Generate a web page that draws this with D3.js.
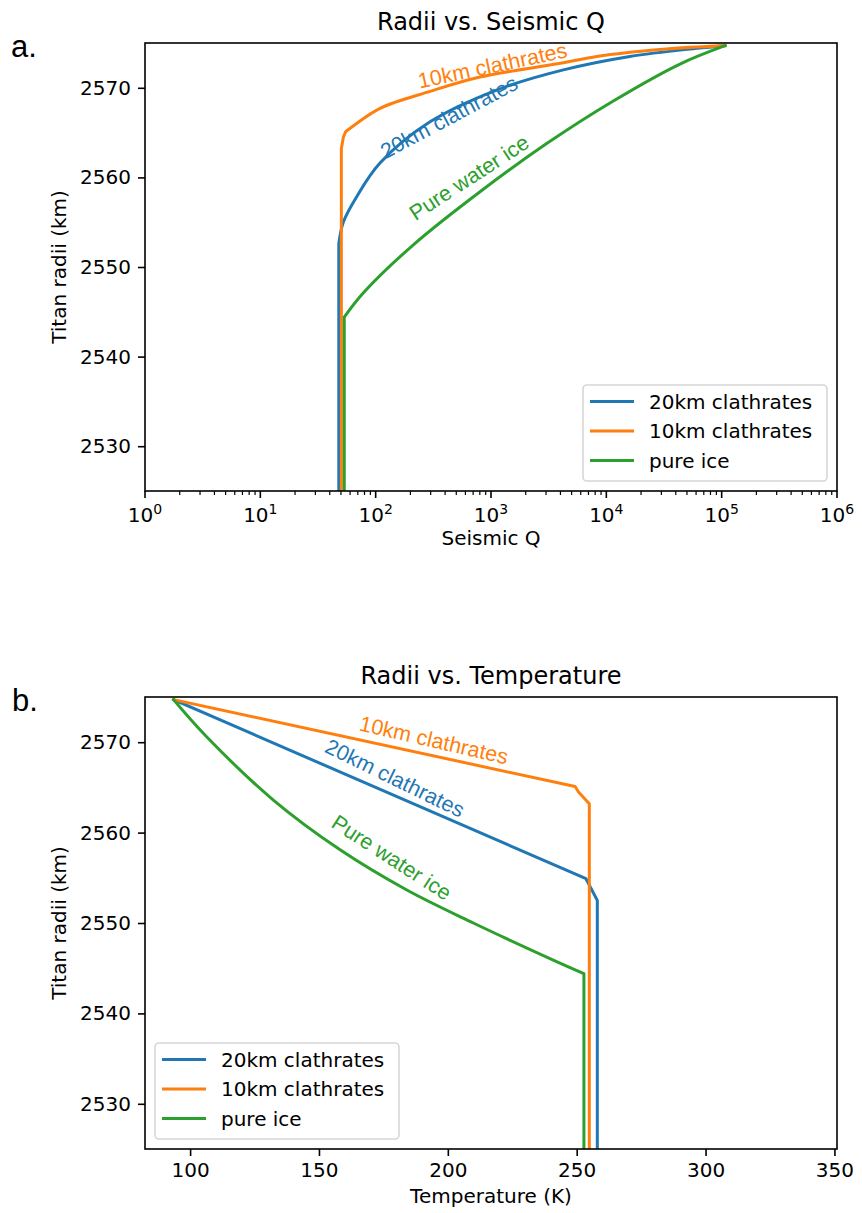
<!DOCTYPE html>
<html><head><meta charset="utf-8">
<script src="https://cdn.jsdelivr.net/npm/d3@7"></script>
<style>
body{margin:0;background:#fff;}
svg{display:block;}
text{font-family:"DejaVu Sans", sans-serif;fill:#000;}
</style></head><body>
<svg id="chart" width="862" height="1213"></svg>
<script>
// ================= DATA =================
const seriesNames  = ["20km clathrates", "10km clathrates", "pure ice"];
const seriesColors = ["#1f77b4", "#ff7f0e", "#2ca02c"];

// ---- Panel a: Seismic Q vs radius (km). Smooth lid part from surface down, then straight base part.
const aQ20 = [107000, 60800, 16000, 4240, 1120, 296, 109, 68.5, 52.4, 47.9];
const aR20 = [2574.7, 2574.4, 2573.5, 2572.0, 2569.75, 2566.2, 2561.6, 2557.85, 2555.0, 2552.6];
const aQ20Base = [47.9];
const aR20Base = [2525];

const aQ10 = [107000, 31200, 8250, 4240, 803, 296, 109, 55];
const aR10 = [2574.7, 2574.3, 2573.5, 2572.8, 2571.2, 2569.6, 2567.7, 2565.1];
const aQ10Base = [52.5, 50.4, 50.4];
const aR10Base = [2564.5, 2563.2, 2525];

const aQIce = [107000, 43500, 11400, 3060, 803, 211, 78, 53.4];
const aRIce = [2574.7, 2572.65, 2568.5, 2563.8, 2558.4, 2552.45, 2547.1, 2544.4];
const aQIceBase = [53.4];
const aRIceBase = [2525];

// ---- Panel b: Temperature (K) vs radius (km)
const bT20 = [93.6, 253.6];
const bR20 = [2574.7, 2554.9];
const bT20Base = [258.0, 258.0];
const bR20Base = [2552.5, 2525];

const bT10 = [93.6, 249.4];
const bR10 = [2574.7, 2565.1];
const bT10Base = [250.7, 254.9, 254.9];
const bR10Base = [2564.5, 2563.2, 2525];

const bTIce = [93.6, 106.4, 132.3, 158.2, 184.1, 209.9, 240.9, 252.8];
const bRIce = [2574.7, 2570.6, 2563.6, 2558.1, 2553.65, 2550.0, 2545.9, 2544.4];
const bTIceBase = [252.8];
const bRIceBase = [2525];

// ---- Axes / ticks
const radiusDomain = [2525, 2575];
const radiusTicks = [2530, 2540, 2550, 2560, 2570];
const qDomain = [1, 1e6];
const qTicks = [1, 10, 100, 1000, 10000, 100000, 1000000];
const qTickExponents = ["0", "1", "2", "3", "4", "5", "6"];
const tDomain = [82.5, 351];
const tTicks = [100, 150, 200, 250, 300, 350];

// ---- In-plot curve labels (orange, blue, green)
const curveLabelText   = ["10km clathrates", "20km clathrates", "Pure water ice"];
const curveLabelColor  = ["#ff7f0e", "#1f77b4", "#2ca02c"];
const aLabelQ = [1030, 432, 645];
const aLabelR = [2572.5, 2566.75, 2560.0];
const aLabelAngle = [-12, -28, -33];
const bLabelT = [194.6, 179.5, 178.2];
const bLabelR = [2570.24, 2566.04, 2557.25];
const bLabelAngle = [13, 26, 33];

// ================= DRAWING =================
const svg = d3.select("#chart");
const zip = (xs, ys) => xs.map((v, i) => [v, ys[i]]);

function drawPanel(opt) {
  const {left, right, top, bottom} = opt.box;
  const x = opt.xScale.range([left, right]);
  const y = d3.scaleLinear().domain(radiusDomain).range([bottom, top]);
  const g = svg.append("g");

  const clipId = "clip" + opt.id;
  svg.append("clipPath").attr("id", clipId)
    .append("rect").attr("x", left).attr("y", top).attr("width", right - left).attr("height", bottom - top);

  // lines
  const smooth = d3.line().x(d => x(d[0])).y(d => y(d[1])).curve(d3.curveCatmullRom.alpha(0.5));
  const lines = g.append("g").attr("clip-path", `url(#${clipId})`);
  opt.series.forEach((s, i) => {
    let d = smooth(s.curve);
    s.base.forEach(p => { d += `L${x(p[0])},${y(p[1])}`; });
    lines.append("path").attr("d", d).attr("fill", "none")
      .attr("stroke", seriesColors[i]).attr("stroke-width", 3)
      .attr("stroke-linejoin", "round").attr("stroke-linecap", "square");
  });

  // y axis
  const ya = g.append("g").attr("transform", `translate(${left},0)`)
    .call(d3.axisLeft(y).tickValues(radiusTicks).tickSize(7).tickPadding(7).tickFormat(d3.format("d")));
  ya.select(".domain").remove();
  ya.selectAll(".tick line").attr("stroke", "#000").attr("stroke-width", 1.6);
  ya.selectAll(".tick text").attr("font-size", 20).attr("font-family", "DejaVu Sans").attr("fill", "#000");

  // x axis
  const xa = g.append("g").attr("transform", `translate(0,${bottom})`);
  if (opt.log) {
    const minor = x.ticks().filter(v => !qTicks.includes(v));
    xa.selectAll("line.minor").data(minor).join("line").attr("class", "minor")
      .attr("x1", d => x(d)).attr("x2", d => x(d)).attr("y1", 0).attr("y2", 4)
      .attr("stroke", "#000").attr("stroke-width", 1.2);
    xa.selectAll("line.major").data(qTicks).join("line").attr("class", "major")
      .attr("x1", d => x(d)).attr("x2", d => x(d)).attr("y1", 0).attr("y2", 7)
      .attr("stroke", "#000").attr("stroke-width", 1.6);
    const lbl = xa.selectAll("text.tl").data(qTicks).join("text").attr("class", "tl")
      .attr("x", d => x(d)).attr("y", 31).attr("text-anchor", "middle").attr("font-size", 20);
    lbl.append("tspan").text("10");
    lbl.append("tspan").attr("dy", -8.5).attr("font-size", 14).text((d, i) => qTickExponents[i]);
  } else {
    xa.call(d3.axisBottom(x).tickValues(tTicks).tickSize(7).tickPadding(7).tickFormat(d3.format("d")));
    xa.select(".domain").remove();
    xa.selectAll(".tick line").attr("stroke", "#000").attr("stroke-width", 1.6);
    xa.selectAll(".tick text").attr("font-size", 20).attr("font-family", "DejaVu Sans").attr("fill", "#000");
  }

  // curve labels
  opt.labels.forEach(l => {
    g.append("text").attr("transform", `translate(${x(l.x)},${y(l.y)}) rotate(${l.angle})`)
      .attr("text-anchor", "middle").attr("dy", "0.35em")
      .style("font-family", "'Liberation Sans', Arial, sans-serif").attr("font-size", 21.5)
      .style("fill", l.color).text(l.text);
  });

  // spines
  g.append("rect").attr("x", left).attr("y", top).attr("width", right - left).attr("height", bottom - top)
    .attr("fill", "none").attr("stroke", "#000").attr("stroke-width", 1.6);

  // legend
  const lw = 244, lh = 96;
  const lx = opt.legendRight ? right - 10 - lw : left + 10;
  const ly = bottom - 10 - lh;
  const leg = g.append("g");
  leg.append("rect").attr("x", lx).attr("y", ly).attr("width", lw).attr("height", lh).attr("rx", 4)
    .attr("fill", "#fff").attr("fill-opacity", 0.8).attr("stroke", "#d6d6d6").attr("stroke-width", 1.6);
  seriesNames.forEach((n, i) => {
    const ry = ly + 16.5 + i * 29.5;
    leg.append("line").attr("x1", lx + 7).attr("x2", lx + 51).attr("y1", ry).attr("y2", ry)
      .attr("stroke", seriesColors[i]).attr("stroke-width", 3);
    leg.append("text").attr("x", lx + 66).attr("y", ry).attr("dy", "0.35em").attr("font-size", 20).text(n);
  });

  // titles & axis labels
  g.append("text").attr("x", (left + right) / 2).attr("y", top - 13).attr("text-anchor", "middle")
    .attr("font-size", 24).text(opt.title);
  g.append("text").attr("x", (left + right) / 2).attr("y", bottom + 54).attr("text-anchor", "middle")
    .attr("font-size", 20).text(opt.xLabel);
  g.append("text").attr("transform", `translate(59,${(top + bottom) / 2}) rotate(-90)`)
    .attr("text-anchor", "middle").attr("dy", "0.35em").attr("font-size", 20).text("Titan radii (km)");
  g.append("text").attr("x", opt.tagX).attr("y", top + 14)
    .style("font-family", "'Liberation Sans', Arial, sans-serif").attr("font-size", 31).text(opt.tag);
}

drawPanel({
  id: "a", box: {left: 145, right: 837, top: 43, bottom: 491},
  xScale: d3.scaleLog().domain(qDomain), log: true,
  series: [
    {curve: zip(aQ20, aR20), base: zip(aQ20Base, aR20Base)},
    {curve: zip(aQ10, aR10), base: zip(aQ10Base, aR10Base)},
    {curve: zip(aQIce, aRIce), base: zip(aQIceBase, aRIceBase)}
  ],
  labels: curveLabelText.map((t, i) => ({text: t, color: curveLabelColor[i], x: aLabelQ[i], y: aLabelR[i], angle: aLabelAngle[i]})),
  legendRight: true, title: "Radii vs. Seismic Q", xLabel: "Seismic Q", tag: "a.", tagX: 11
});

drawPanel({
  id: "b", box: {left: 145, right: 837, top: 697, bottom: 1149},
  xScale: d3.scaleLinear().domain(tDomain), log: false,
  series: [
    {curve: zip(bT20, bR20), base: zip(bT20Base, bR20Base)},
    {curve: zip(bT10, bR10), base: zip(bT10Base, bR10Base)},
    {curve: zip(bTIce, bRIce), base: zip(bTIceBase, bRIceBase)}
  ],
  labels: curveLabelText.map((t, i) => ({text: t, color: curveLabelColor[i], x: bLabelT[i], y: bLabelR[i], angle: bLabelAngle[i]})),
  legendRight: false, title: "Radii vs. Temperature", xLabel: "Temperature (K)", tag: "b.", tagX: 12
});
</script>
</body></html>
